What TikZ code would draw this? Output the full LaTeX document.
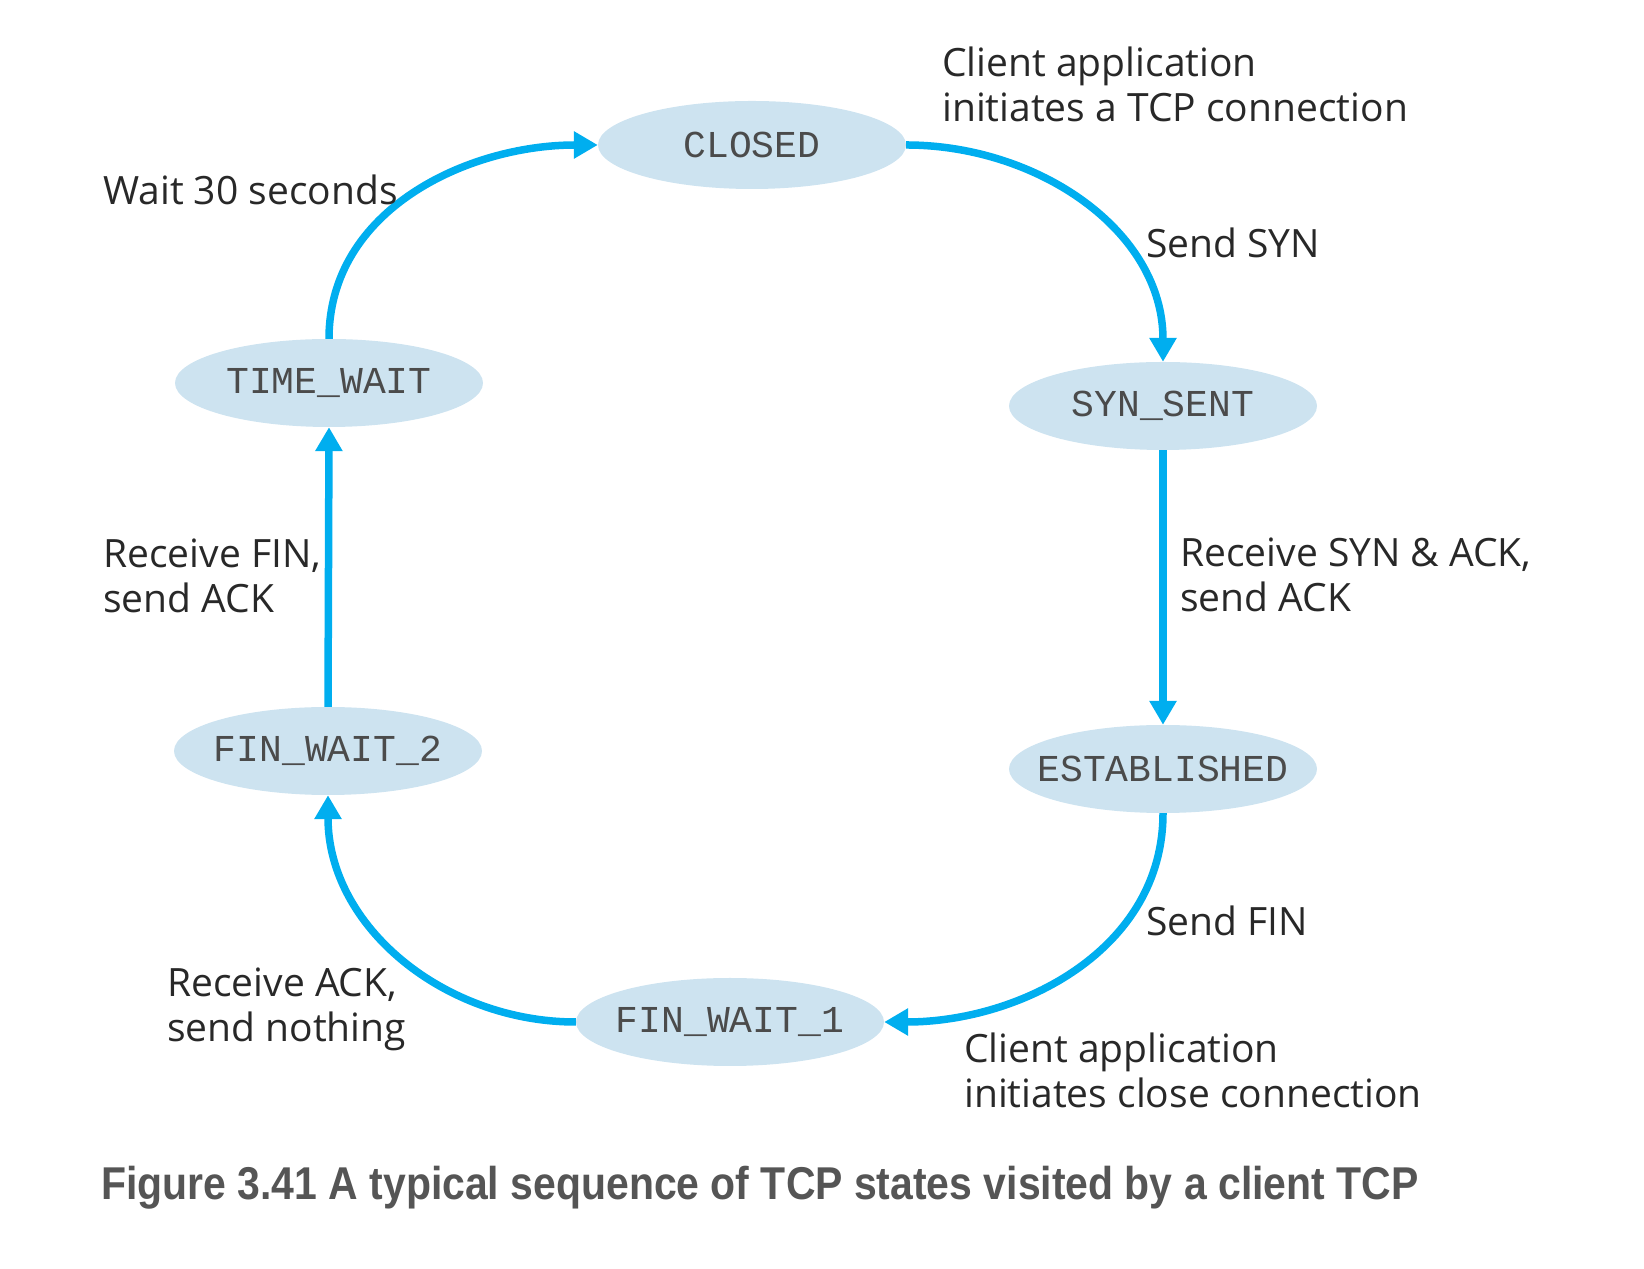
\documentclass[tikz,border=0pt]{standalone}
\usepackage{fontspec}
\setmainfont{Open Sans}
\newfontfamily\statefont{Liberation Mono}
\newfontfamily\capfont[FakeStretch=0.89]{Liberation Sans}
\usetikzlibrary{shapes.geometric, arrows.meta, positioning}

\definecolor{arrowblue}{RGB}{0,174,239}
\definecolor{statefill}{RGB}{205,227,240}
\definecolor{statetext}{RGB}{75,75,75}
\definecolor{lbltext}{RGB}{40,40,40}
\definecolor{captext}{RGB}{85,85,85}

\tikzset{
  tcpstate/.style={ellipse, fill=statefill, minimum width=308pt, minimum height=88pt, inner sep=0pt,
    label={[text=statetext, font=\statefont\fontsize{38}{40}\selectfont]center:#1}},
  trans/.style={draw=arrowblue, line width=7.5pt, -{Triangle[length=24pt,width=26pt]}},
  lbl/.style={anchor=base west, inner sep=0pt, align=left, text=lbltext,
    font=\fontsize{39}{45}\selectfont}
}

\begin{document}
\begin{tikzpicture}[x=1pt, y=1pt]
\useasboundingbox (0,0) rectangle (1644,1269);

% States
\node[tcpstate={CLOSED}] (closed) at (752,1124) {};
\node[tcpstate={SYN\_SENT}] (synsent) at (1163,863) {};
\node[tcpstate={ESTABLISHED}] (estab) at (1163,500) {};
\node[tcpstate={FIN\_WAIT\_1}] (finwaitA) at (730,247) {};
\node[tcpstate={FIN\_WAIT\_2}] (finwaitB) at (328,518) {};
\node[tcpstate={TIME\_WAIT}] (timewait) at (329,886) {};

% Transitions
\draw[trans] (closed.east) to[out=0, in=90] (synsent.north);
\draw[trans] (synsent.south) -- (estab.north);
\draw[trans] (estab.south) to[out=-90, in=0] (finwaitA.east);
\draw[trans] (finwaitA.west) to[out=180, in=-90] (finwaitB.south);
\draw[trans] (finwaitB.north) -- (timewait.south);
\draw[trans] (timewait.north) to[out=90, in=180] (closed.west);

% Labels (base = last line)
\node[lbl] (openlbl) at (942,1147) {Client application\\initiates a TCP connection};
\node[lbl] (synlbl) at (1146,1011) {Send SYN};
\node[lbl] (synacklbl) at (1180,657) {Receive SYN \& ACK,\\send ACK};
\node[lbl] (finlbl) at (1146,333) {Send FIN};
\node[lbl] (closelbl) at (964,161) {Client application\\initiates close connection};
\node[lbl] (acklbl) at (167,227) {Receive ACK,\\send nothing};
\node[lbl] (finacklbl) at (103,656) {Receive FIN,\\send ACK};
\node[lbl] (waitlbl) at (103,1064) {Wait 30 seconds};

% Caption
\node[anchor=base west, inner sep=0pt, text=captext, font=\capfont\bfseries\fontsize{46}{50}\selectfont]
  (caption) at (101,69) {Figure 3.41 A typical sequence of TCP states visited by a client TCP};
\end{tikzpicture}
\end{document}
